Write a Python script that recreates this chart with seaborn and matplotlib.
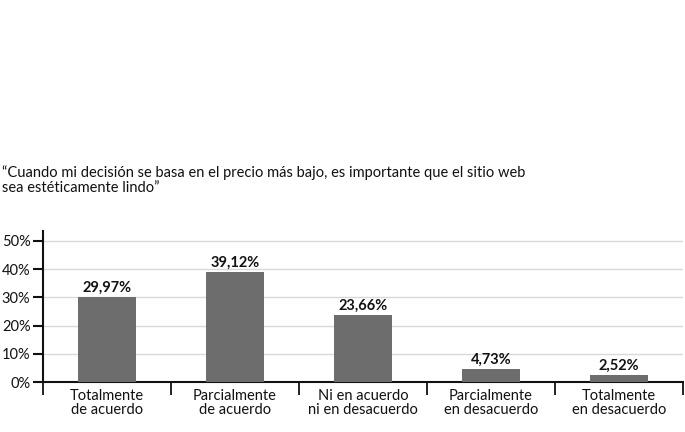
import numpy as np
import pandas as pd
import seaborn as sns
import matplotlib.pyplot as plt
from matplotlib.ticker import FixedLocator

# Data
categories = ["Totalmente\nde acuerdo", "Parcialmente\nde acuerdo", "Ni en acuerdo\nni en desacuerdo",
              "Parcialmente\nen desacuerdo", "Totalmente\nen desacuerdo"]
values = [29.97, 39.12, 23.66, 4.73, 2.52]
labels = ["29,97%", "39,12%", "23,66%", "4,73%", "2,52%"]
yticks = [0, 10, 20, 30, 40, 50]
title = "\u201cCuando mi decisión se basa en el precio más bajo, es importante que el sitio web\nsea estéticamente lindo\u201d"

df = pd.DataFrame({"cat": categories, "val": values})

sns.set_style("white")
plt.rcParams['font.family'] = ['Lato', 'DejaVu Sans']

fig = plt.figure(figsize=(6.85, 4.32), dpi=100)
ax = fig.add_axes([43/685, 50/432, 640/685, 151/432])

sns.barplot(data=df, x="cat", y="val", color="#6d6d6d", width=0.45, saturation=1,
            linewidth=0, ax=ax, zorder=3)

ax.set_xlim(-0.5, 4.5)
ax.set_ylim(0, 53.5)
ax.set_yticks(yticks)
ax.set_yticklabels([f"{t}%" for t in yticks], fontsize=10.5, color="#111111")
ax.yaxis.grid(True, color="#d9d9d9", linewidth=1, zorder=0)
ax.set_xlabel("")
ax.set_ylabel("")

# category boundaries as ticks
ax.xaxis.set_minor_locator(FixedLocator(np.arange(-0.5, 5, 1)))
ax.tick_params(axis="x", which="major", bottom=False, length=0, pad=5, labelsize=10.5, labelcolor="#111111")
ax.tick_params(axis="x", which="minor", bottom=True, length=9, width=1.3, color="#111111", direction="out")
ax.tick_params(axis="y", length=7, width=1.5, color="#111111", pad=2, left=True)
for lab in ax.get_xticklabels():
    lab.set_linespacing(1.0)

for s in ["top", "right"]:
    ax.spines[s].set_visible(False)
ax.spines["left"].set_color("#111111")
ax.spines["left"].set_linewidth(1.5)
ax.spines["bottom"].set_color("#111111")
ax.spines["bottom"].set_linewidth(1.5)

for i, (v, l) in enumerate(zip(values, labels)):
    ax.text(i, v + 0.8, l, ha="center", va="bottom", fontsize=10.5, fontweight="bold", color="#111111")

fig.text(2/685, 1 - 165/432, title, ha="left", va="top", fontsize=10.5, color="#111111", linespacing=1.1)

fig.savefig("out.png", dpi=100)
